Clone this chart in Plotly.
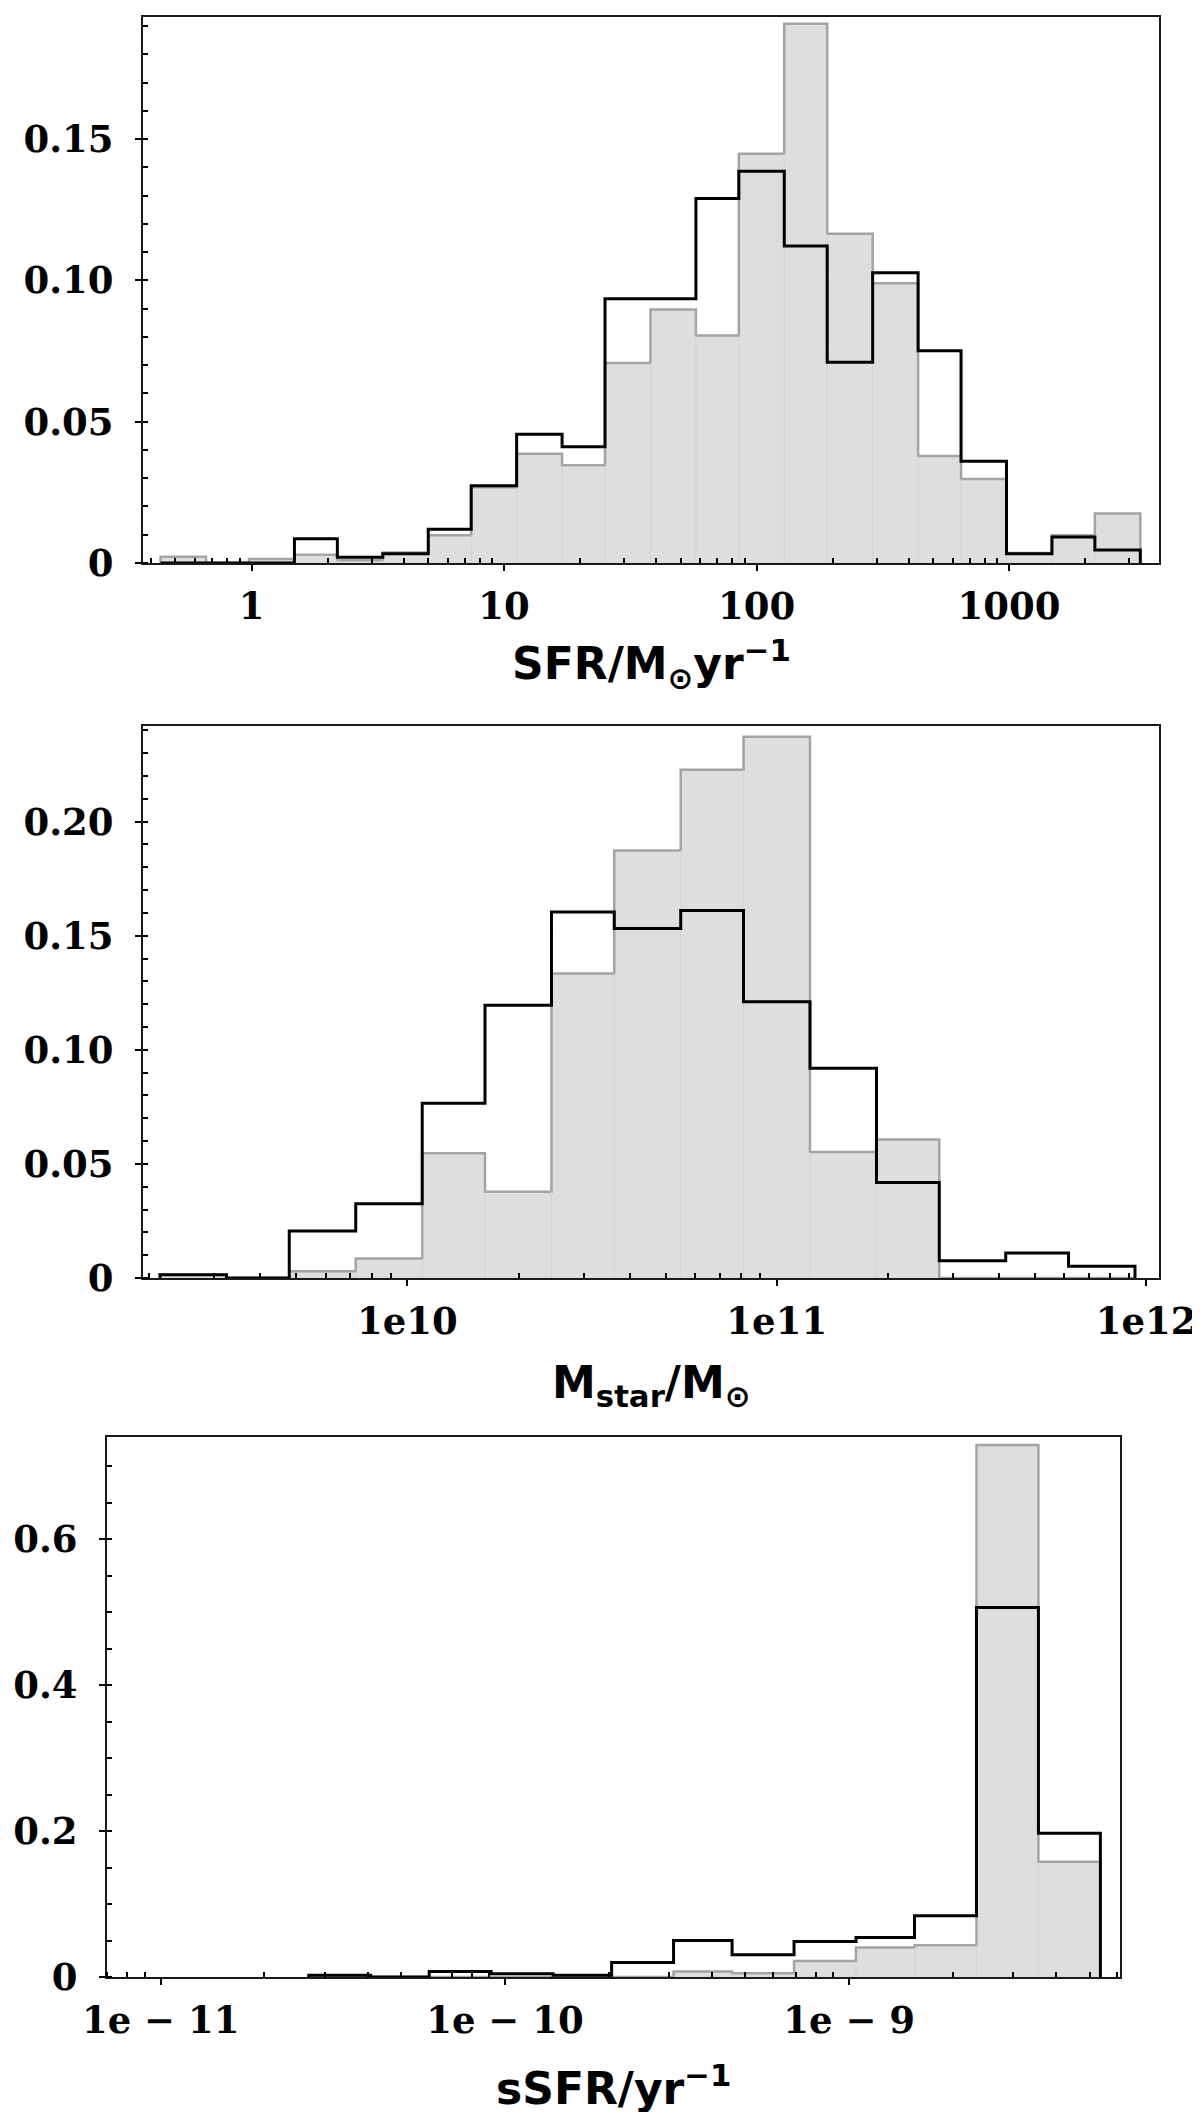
import plotly.graph_objects as go

# bin edges are log10 of the quantity, heights are the normalised counts

sfr_edges_log = [-0.36, -0.18, -0.01, 0.17, 0.34, 0.52, 0.70, 0.87, 1.05, 1.23, 1.40, 1.58,
                 1.76, 1.93, 2.11, 2.28, 2.46, 2.64, 2.81, 2.99, 3.17, 3.34, 3.52]
sfr_grey = [0.0022, 0, 0.0014, 0.0029, 0.0010, 0.0037, 0.0098, 0.0268, 0.0387, 0.0346, 0.0708,
            0.0897, 0.0805, 0.1448, 0.1908, 0.1165, 0.0990, 0.0379, 0.0297, 0.0035, 0.0098, 0.0175]
sfr_black = [0, 0, 0, 0.0086, 0.0020, 0.0033, 0.0119, 0.0273, 0.0456, 0.0411, 0.0935,
             0.0935, 0.1290, 0.1386, 0.1122, 0.0710, 0.1027, 0.0751, 0.0360, 0.0033, 0.0092, 0.0046]

mstar_edges_log = [9.33, 9.51, 9.68, 9.86, 10.04, 10.21, 10.39, 10.56, 10.74, 10.91, 11.09,
                   11.27, 11.44, 11.62, 11.79, 11.97]
mstar_grey = [0.0014, 0, 0.0030, 0.0086, 0.0547, 0.0378, 0.1334, 0.1873, 0.2227, 0.2372,
              0.0552, 0.0607, 0, 0, 0]
mstar_black = [0.0014, 0, 0.0206, 0.0325, 0.0766, 0.1195, 0.1604, 0.1532, 0.1610, 0.1211,
               0.0919, 0.0419, 0.0076, 0.0110, 0.0051]

ssfr_edges_log = [-10.57, -10.39, -10.22, -10.04, -9.86, -9.69, -9.51, -9.34, -9.16, -8.98,
                  -8.81, -8.63, -8.45, -8.27]
ssfr_grey = [0, 0, 0, 0, 0, 0, 0.0075, 0.0050, 0.0218, 0.0405, 0.0436, 0.7290, 0.1580]
ssfr_black = [0.0025, 0, 0.0075, 0.0044, 0.0025, 0.0200, 0.0500, 0.0305, 0.0486, 0.0542,
              0.0841, 0.5065, 0.1969]

sfr_ticks = [1, 10, 100, 1000]
sfr_ticktext = ["1", "10", "100", "1000"]
mstar_ticks = [1e10, 1e11, 1e12]
mstar_ticktext = ["1e10", "1e11", "1e12"]
ssfr_ticks = [1e-11, 1e-10, 1e-9]
ssfr_ticktext = ["1e − 11", "1e − 10", "1e − 9"]

y1_ticks = [0, 0.05, 0.10, 0.15]
y1_ticktext = ["0", "0.05", "0.10", "0.15"]
y2_ticks = [0, 0.05, 0.10, 0.15, 0.20]
y2_ticktext = ["0", "0.05", "0.10", "0.15", "0.20"]
y3_ticks = [0, 0.2, 0.4, 0.6]
y3_ticktext = ["0", "0.2", "0.4", "0.6"]


def contour(edges_log, heights):
    xs, ys = [10 ** edges_log[0]], [0]
    for i, h in enumerate(heights):
        xs += [10 ** edges_log[i], 10 ** edges_log[i + 1]]
        ys += [h, h]
    xs.append(10 ** edges_log[-1])
    ys.append(0)
    return xs, ys


def seams(edges_log, heights):
    xs, ys = [], []
    for i in range(1, len(heights)):
        h = min(heights[i - 1], heights[i])
        if h > 0:
            xs += [10 ** edges_log[i], 10 ** edges_log[i], None]
            ys += [0, h, None]
    return xs, ys


fig = go.Figure()

panels = [
    (sfr_edges_log, sfr_grey, sfr_black, "x", "y"),
    (mstar_edges_log, mstar_grey, mstar_black, "x2", "y2"),
    (ssfr_edges_log, ssfr_grey, ssfr_black, "x3", "y3"),
]
for edges, grey, black, xa, ya in panels:
    gx, gy = contour(edges, grey)
    fig.add_trace(go.Scatter(x=gx, y=gy, mode="lines", fill="tozeroy", fillcolor="#dedede",
                             line=dict(color="#a4a4a4", width=2.5), xaxis=xa, yaxis=ya,
                             hoverinfo="skip", showlegend=False))
    sx, sy = seams(edges, grey)
    fig.add_trace(go.Scatter(x=sx, y=sy, mode="lines", line=dict(color="#d2d2d2", width=1),
                             xaxis=xa, yaxis=ya, hoverinfo="skip", showlegend=False))
    bx, by = contour(edges, black)
    fig.add_trace(go.Scatter(x=bx, y=by, mode="lines", line=dict(color="black", width=3),
                             xaxis=xa, yaxis=ya, hoverinfo="skip", showlegend=False))

tick_font = dict(family="DejaVu Serif", size=37, color="black", weight="bold")
title_font = dict(family="DejaVu Sans", size=44, color="black", weight="bold")


def log_minor(lo, hi):
    return [m * 10 ** p for p in range(lo, hi) for m in range(2, 10)]


def xaxis(rng, domain, anchor, tickvals, ticktext, lo, hi):
    return dict(type="log", range=rng, domain=domain, anchor=anchor, automargin=False,
                tickvals=tickvals, ticktext=ticktext, tickfont=tick_font,
                showline=True, linecolor="#1a1a1a", linewidth=2, mirror=True,
                ticks="outside", ticklen=6, tickwidth=2, tickcolor="black",
                ticklabelstandoff=4,
                minor=dict(ticks="inside", ticklen=5, tickwidth=1.5, tickcolor="black",
                           tickvals=log_minor(lo, hi)),
                showgrid=False, zeroline=False, fixedrange=True)


def yaxis(rng, domain, anchor, tickvals, ticktext, minor_step):
    return dict(range=rng, domain=domain, anchor=anchor, automargin=False,
                tickvals=tickvals, ticktext=ticktext, tickfont=tick_font,
                showline=True, linecolor="#1a1a1a", linewidth=2, mirror=True,
                ticks="outside", ticklen=6, tickwidth=2, tickcolor="black",
                ticklabelstandoff=14,
                minor=dict(ticks="inside", ticklen=5, tickwidth=1.5, tickcolor="black",
                           dtick=minor_step, tick0=0),
                showgrid=False, zeroline=False, fixedrange=True)


H = 2112.0


def py(pix):
    return 1 - pix / H


fig.update_layout(
    width=1200, height=2112,
    margin=dict(l=0, r=0, t=0, b=0, autoexpand=False),
    paper_bgcolor="white", plot_bgcolor="white",
    xaxis=xaxis([-0.4297, 3.594], [135 / 1200, 1151 / 1200], "y", sfr_ticks, sfr_ticktext, -1, 4),
    yaxis=yaxis([0, 0.1932], [py(555), py(9)], "x", y1_ticks, y1_ticktext, 0.01),
    xaxis2=xaxis([9.284, 12.035], [135 / 1200, 1151 / 1200], "y2", mstar_ticks, mstar_ticktext, 9, 12),
    yaxis2=yaxis([0, 0.2419], [py(1270), py(718)], "x2", y2_ticks, y2_ticktext, 0.01),
    xaxis3=xaxis([-11.156, -8.213], [99 / 1200, 1112 / 1200], "y3", ssfr_ticks, ssfr_ticktext, -12, -8),
    yaxis3=yaxis([0, 0.740], [py(1969), py(1429)], "x3", y3_ticks, y3_ticktext, 0.05),
    annotations=[
        dict(text="SFR/M<sub>⊙</sub>yr<sup>−1</sup>", x=643 / 1200, y=py(656), xref="paper",
             yref="paper", showarrow=False, font=title_font, xanchor="center", yanchor="middle"),
        dict(text="M<sub>star</sub>/M<sub>⊙</sub>", x=643 / 1200, y=py(1377), xref="paper",
             yref="paper", showarrow=False, font=title_font, xanchor="center", yanchor="middle"),
        dict(text="sSFR/yr<sup>−1</sup>", x=606 / 1200, y=py(2077), xref="paper",
             yref="paper", showarrow=False, font=title_font, xanchor="center", yanchor="middle"),
    ],
)

fig.write_html("out.html")
